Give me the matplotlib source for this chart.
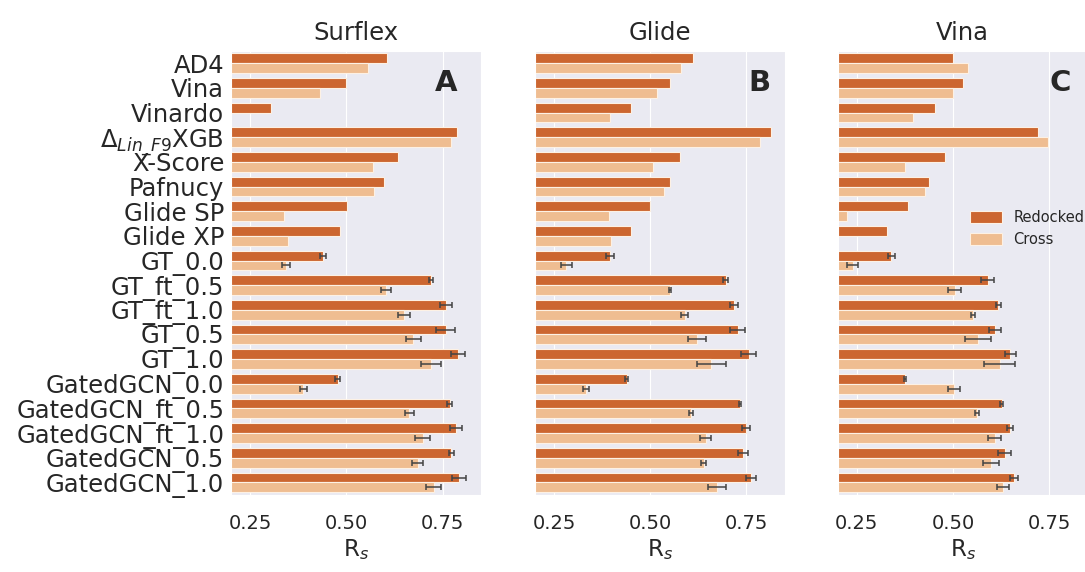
import matplotlib.pyplot as plt
import numpy as np
import seaborn as sns

sns.set_style('darkgrid')
plt.rcParams['font.family'] = ['DejaVu Sans']

methods = ['AD4', 'Vina', 'Vinardo', r'$\Delta_{Lin\_F9}$XGB', 'X-Score', 'Pafnucy',
           'Glide SP', 'Glide XP', 'GT_0.0', 'GT_ft_0.5', 'GT_ft_1.0', 'GT_0.5', 'GT_1.0',
           'GatedGCN_0.0', 'GatedGCN_ft_0.5', 'GatedGCN_ft_1.0', 'GatedGCN_0.5', 'GatedGCN_1.0']
programs = ['Surflex', 'Glide', 'Vina']
letters = ['A', 'B', 'C']

# mean Rs per method (first 8 methods have no error bar)
surflex_redocked = [0.606, 0.499, 0.304, 0.787, 0.635, 0.597, 0.501, 0.484, 0.439, 0.720,
                    0.758, 0.758, 0.790, 0.477, 0.768, 0.785, 0.773, 0.793]
surflex_cross = [0.555, 0.431, 0.18, 0.772, 0.570, 0.572, 0.337, 0.347, 0.343, 0.604,
                 0.650, 0.674, 0.720, 0.388, 0.663, 0.698, 0.685, 0.727]
surflex_redocked_err = [np.nan]*8 + [0.008, 0.006, 0.016, 0.024, 0.017, 0.007, 0.007, 0.016, 0.007, 0.019]
surflex_cross_err = [np.nan]*8 + [0.010, 0.013, 0.016, 0.020, 0.026, 0.010, 0.012, 0.020, 0.014, 0.020]

glide_redocked = [0.610, 0.551, 0.451, 0.814, 0.578, 0.550, 0.499, 0.449, 0.395, 0.696,
                  0.717, 0.727, 0.756, 0.439, 0.733, 0.749, 0.741, 0.762]
glide_cross = [0.581, 0.518, 0.394, 0.784, 0.507, 0.535, 0.392, 0.398, 0.282, 0.551,
               0.589, 0.622, 0.659, 0.332, 0.606, 0.644, 0.639, 0.674]
glide_redocked_err = [np.nan]*8 + [0.010, 0.007, 0.011, 0.020, 0.020, 0.004, 0.003, 0.010, 0.013, 0.013]
glide_cross_err = [np.nan]*8 + [0.015, 0.003, 0.009, 0.023, 0.037, 0.008, 0.006, 0.015, 0.006, 0.023]

vina_redocked = [0.501, 0.525, 0.454, 0.722, 0.478, 0.438, 0.382, 0.328, 0.339, 0.590,
                 0.618, 0.609, 0.649, 0.375, 0.627, 0.648, 0.634, 0.659]
vina_cross = [0.538, 0.500, 0.396, 0.748, 0.375, 0.428, 0.224, 0.18, 0.239, 0.504,
              0.552, 0.565, 0.621, 0.503, 0.562, 0.608, 0.599, 0.630]
vina_redocked_err = [np.nan]*8 + [0.009, 0.016, 0.006, 0.016, 0.014, 0.003, 0.004, 0.007, 0.018, 0.010]
vina_cross_err = [np.nan]*8 + [0.015, 0.016, 0.004, 0.033, 0.040, 0.016, 0.006, 0.016, 0.020, 0.016]

data = [(surflex_redocked, surflex_cross, surflex_redocked_err, surflex_cross_err),
        (glide_redocked, glide_cross, glide_redocked_err, glide_cross_err),
        (vina_redocked, vina_cross, vina_redocked_err, vina_cross_err)]

c_red = '#cc6630'
c_cross = '#efbd91'
edge = '#fdf1e4'

fig = plt.figure(figsize=(10.85, 5.72), dpi=100)
lefts = [0.213, 0.493, 0.772]
letter_x = [0.86, 0.90, 0.89]
y = np.arange(len(methods))
h = 0.4

for i, (red, cross, red_err, cross_err) in enumerate(data):
    ax = fig.add_axes([lefts[i], 0.135, 0.2304, 0.776])
    red = np.array(red)
    cross = np.array(cross)
    red_err = np.array(red_err)
    cross_err = np.array(cross_err)
    ax.barh(y - h/2, red, height=h, color=c_red, edgecolor=edge, linewidth=0.8, label='Redocked')
    ax.barh(y + h/2, cross, height=h, color=c_cross, edgecolor=edge, linewidth=0.8, label='Cross')
    m = ~np.isnan(red_err)
    ax.errorbar(red[m], y[m] - h/2, xerr=red_err[m], fmt='none', ecolor='#444444',
                elinewidth=1.1, capsize=2.5, capthick=1.1)
    m = ~np.isnan(cross_err)
    ax.errorbar(cross[m], y[m] + h/2, xerr=cross_err[m], fmt='none', ecolor='#444444',
                elinewidth=1.1, capsize=2.5, capthick=1.1)
    ax.set_xlim(0.2, 0.85)
    ax.set_ylim(len(methods) - 0.5, -0.5)
    ax.set_xticks([0.25, 0.5, 0.75])
    ax.set_xticklabels(['0.25', '0.50', '0.75'])
    ax.tick_params(axis='x', labelsize=14, pad=14, length=0)
    ax.set_yticks(y)
    if i == 0:
        ax.set_yticklabels(methods, fontsize=17.5)
    else:
        ax.set_yticklabels([])
    ax.tick_params(axis='y', length=0, pad=5)
    ax.grid(axis='y', visible=False)
    ax.set_title(programs[i], fontsize=17.5, pad=8)
    ax.set_xlabel(r'R$_{s}$', fontsize=16.5, labelpad=3)
    ax.text(letter_x[i], 0.928, letters[i], transform=ax.transAxes, fontsize=21,
            fontweight='bold', ha='center', va='center')
    if i == 2:
        ax.legend(loc='center right', bbox_to_anchor=(1.04, 0.6), frameon=False, fontsize=10.5,
                  handlelength=2.2, handleheight=0.9)

fig.savefig('out.png', dpi=100)
